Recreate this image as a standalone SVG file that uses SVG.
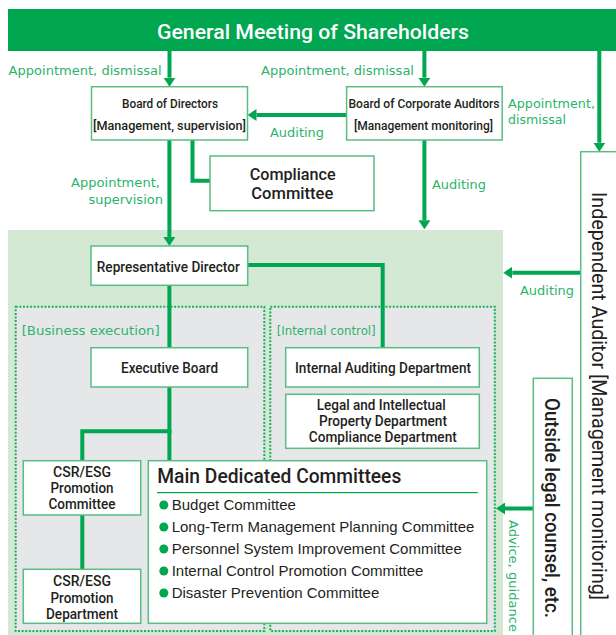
<svg xmlns="http://www.w3.org/2000/svg" width="616" height="635" viewBox="0 0 616 635">
<style>
.box{fill:#fff;stroke:#5abd84;stroke-width:1.5}
.n{font-family:Roboto,"Liberation Sans",sans-serif;font-weight:500;fill:#231f20;text-anchor:middle}
.s{font-family:Roboto,"Liberation Sans",sans-serif;font-weight:500;fill:#231f20;text-anchor:start}
.g{font-family:"DejaVu Sans","Noto Sans",sans-serif;fill:#2db36b;font-size:12.5px}
.c{stroke:#00a650;stroke-width:4;fill:none}
.dot{stroke:#1fae5e;stroke-width:2;stroke-dasharray:2 1.6}
.it{font-family:"Liberation Sans",Arial,sans-serif;font-size:15px;fill:#231f20}
</style>
<defs>
<marker id="ah" viewBox="0 0 9 12" refX="0" refY="6" markerWidth="9" markerHeight="12" markerUnits="userSpaceOnUse" orient="auto">
<path d="M0,0 L9,6 L0,12 z" fill="#00a650"/>
</marker>
</defs>
<rect width="616" height="635" fill="#fff"/>
<!-- backgrounds -->
<rect x="8" y="230" width="495" height="410" fill="#d3e9d4"/>
<rect x="15.7" y="306.7" width="248.6" height="324.3" fill="#e6e7e9" class="dot"/>
<rect x="270.3" y="306.7" width="224.5" height="324.3" fill="#e6e7e9" class="dot"/>
<text class="g" x="21.7" y="335" textLength="138" lengthAdjust="spacingAndGlyphs">[Business execution]</text>
<text class="g" x="276.7" y="335" textLength="99" lengthAdjust="spacingAndGlyphs">[Internal control]</text>

<g id="banner">
<rect x="8" y="9" width="610" height="42" fill="#00a650"/>
<text x="313" y="39" font-family="Roboto,'Liberation Sans',sans-serif" font-weight="500" font-size="21" fill="#fff" text-anchor="middle" textLength="312" lengthAdjust="spacingAndGlyphs">General Meeting of Shareholders</text>
</g>

<g id="connectors">
<line class="c" x1="169.5" y1="51" x2="169.5" y2="77.7" marker-end="url(#ah)"/>
<line class="c" x1="424.4" y1="51" x2="424.4" y2="77.7" marker-end="url(#ah)"/>
<line class="c" x1="599.3" y1="51" x2="599.3" y2="142.7" marker-end="url(#ah)"/>
<line class="c" x1="346.6" y1="115" x2="256.5" y2="115" marker-end="url(#ah)"/>
<line class="c" x1="169.4" y1="140" x2="169.4" y2="237" marker-end="url(#ah)"/>
<line class="c" x1="424.4" y1="140" x2="424.4" y2="220.3" marker-end="url(#ah)"/>
<line class="c" x1="580.7" y1="272.7" x2="512.3" y2="272.7" marker-end="url(#ah)"/>
<line class="c" x1="533.3" y1="508.5" x2="505" y2="508.5" marker-end="url(#ah)"/>
<polyline class="c" points="192.5,140 192.5,180.7 210,180.7"/>
<polyline class="c" points="247.7,265 382.7,265 382.7,347.7"/>
<line class="c" x1="169.4" y1="285.3" x2="169.4" y2="347.7"/>
<line class="c" x1="169.4" y1="387" x2="169.4" y2="460.7"/>
<polyline class="c" points="171.4,431.3 82.3,431.3 82.3,460.7"/>
<line class="c" x1="82.3" y1="515" x2="82.3" y2="569.3"/>
</g>

<g id="labels">
<text class="g" x="8.6" y="74.5" textLength="153" lengthAdjust="spacingAndGlyphs">Appointment, dismissal</text>
<text class="g" x="261" y="74.5" textLength="153" lengthAdjust="spacingAndGlyphs">Appointment, dismissal</text>
<text class="g" x="508" y="108" textLength="87" lengthAdjust="spacingAndGlyphs">Appointment,</text>
<text class="g" x="508" y="124" textLength="58" lengthAdjust="spacingAndGlyphs">dismissal</text>
<text class="g" x="270" y="137" textLength="54" lengthAdjust="spacingAndGlyphs">Auditing</text>
<text class="g" x="71" y="187.3" textLength="89" lengthAdjust="spacingAndGlyphs">Appointment,</text>
<text class="g" x="88.4" y="203.5" textLength="74.6" lengthAdjust="spacingAndGlyphs">supervision</text>
<text class="g" x="432" y="189.3" textLength="54" lengthAdjust="spacingAndGlyphs">Auditing</text>
<text class="g" x="520" y="294.5" textLength="54" lengthAdjust="spacingAndGlyphs">Auditing</text>
<text class="g" transform="translate(508.5,520) rotate(90)" x="0" y="0" textLength="112" lengthAdjust="spacingAndGlyphs">Advice, guidance</text>
</g>

<g id="board-of-directors">
<rect class="box" x="91.5" y="86.7" width="156" height="53.3"/>
<text class="n" x="170" y="107.5" font-size="12.8" textLength="96" lengthAdjust="spacingAndGlyphs">Board of Directors</text>
<text class="n" x="169.5" y="130" font-size="12.8" textLength="153" lengthAdjust="spacingAndGlyphs">[Management, supervision]</text>
</g>
<g id="board-of-corporate-auditors">
<rect class="box" x="346.6" y="86.7" width="155.6" height="53.3"/>
<text class="n" x="424" y="107.5" font-size="12.8" textLength="151" lengthAdjust="spacingAndGlyphs">Board of Corporate Auditors</text>
<text class="n" x="423.5" y="130" font-size="12.8" textLength="139" lengthAdjust="spacingAndGlyphs">[Management monitoring]</text>
</g>
<g id="compliance-committee">
<rect class="box" x="210" y="156" width="164" height="54.7"/>
<text class="n" x="292.7" y="179.5" font-size="17" textLength="86" lengthAdjust="spacingAndGlyphs">Compliance</text>
<text class="n" x="292.3" y="198.5" font-size="17" textLength="82" lengthAdjust="spacingAndGlyphs">Committee</text>
</g>
<g id="independent-auditor">
<rect class="box" x="580.7" y="151.7" width="50" height="500"/>
<text class="s" transform="translate(591.7,192) rotate(90)" x="0" y="0" font-size="20.5" style="font-weight:400" textLength="408" lengthAdjust="spacingAndGlyphs">Independent Auditor [Management monitoring]</text>
</g>
<g id="outside-legal-counsel">
<rect class="box" x="533.3" y="378.3" width="39" height="270"/>
<text class="s" transform="translate(545,398) rotate(90)" x="0" y="0" font-size="20.5" textLength="220" lengthAdjust="spacingAndGlyphs">Outside legal counsel, etc.</text>
</g>
<g id="representative-director">
<rect class="box" x="91" y="246" width="156.7" height="39.3"/>
<text class="n" x="168.3" y="272.3" font-size="14" textLength="143" lengthAdjust="spacingAndGlyphs">Representative Director</text>
</g>
<g id="executive-board">
<rect class="box" x="91" y="347.7" width="156.7" height="39.3"/>
<text class="n" x="169.5" y="372.7" font-size="14" textLength="97" lengthAdjust="spacingAndGlyphs">Executive Board</text>
</g>
<g id="internal-auditing-department">
<rect class="box" x="285.7" y="347.7" width="193.6" height="39.3"/>
<text class="n" x="383" y="372.5" font-size="14" textLength="176" lengthAdjust="spacingAndGlyphs">Internal Auditing Department</text>
</g>
<g id="legal-compliance-department">
<rect class="box" x="285.7" y="394.3" width="193.6" height="54"/>
<text class="n" x="381.3" y="410" font-size="14" textLength="129" lengthAdjust="spacingAndGlyphs">Legal and Intellectual</text>
<text class="n" x="383" y="425.7" font-size="14" textLength="128" lengthAdjust="spacingAndGlyphs">Property Department</text>
<text class="n" x="382.8" y="442.3" font-size="14" textLength="148" lengthAdjust="spacingAndGlyphs">Compliance Department</text>
</g>
<g id="csr-esg-committee">
<rect class="box" x="23.3" y="460.7" width="117.4" height="54.3"/>
<text class="n" x="82" y="477.3" font-size="14.2" textLength="58" lengthAdjust="spacingAndGlyphs">CSR/ESG</text>
<text class="n" x="82" y="493.3" font-size="14.2" textLength="63" lengthAdjust="spacingAndGlyphs">Promotion</text>
<text class="n" x="82" y="509.3" font-size="14.2" textLength="67" lengthAdjust="spacingAndGlyphs">Committee</text>
</g>
<g id="csr-esg-department">
<rect class="box" x="23.3" y="569.3" width="117.4" height="54"/>
<text class="n" x="82" y="586" font-size="14.2" textLength="58" lengthAdjust="spacingAndGlyphs">CSR/ESG</text>
<text class="n" x="82" y="602.7" font-size="14.2" textLength="63" lengthAdjust="spacingAndGlyphs">Promotion</text>
<text class="n" x="82" y="618.7" font-size="14.2" textLength="72" lengthAdjust="spacingAndGlyphs">Department</text>
</g>
<g id="main-dedicated-committees">
<rect class="box" x="148.3" y="460.7" width="338.4" height="162.6"/>
<text class="s" x="157.3" y="483.3" font-size="20.5" textLength="244" lengthAdjust="spacingAndGlyphs">Main Dedicated Committees</text>
<line x1="157" y1="492.7" x2="477.7" y2="492.7" stroke="#00a650" stroke-width="1.3"/>
<g fill="#00a650">
<circle cx="163.8" cy="505" r="4.5"/>
<circle cx="163.8" cy="527" r="4.5"/>
<circle cx="163.8" cy="549" r="4.5"/>
<circle cx="163.8" cy="571" r="4.5"/>
<circle cx="163.8" cy="593" r="4.5"/>
</g>
<text class="it" x="171.7" y="510">Budget Committee</text>
<text class="it" x="171.7" y="532">Long-Term Management Planning Committee</text>
<text class="it" x="171.7" y="554">Personnel System Improvement Committee</text>
<text class="it" x="171.7" y="576">Internal Control Promotion Committee</text>
<text class="it" x="171.7" y="598">Disaster Prevention Committee</text>
</g>
</svg>
